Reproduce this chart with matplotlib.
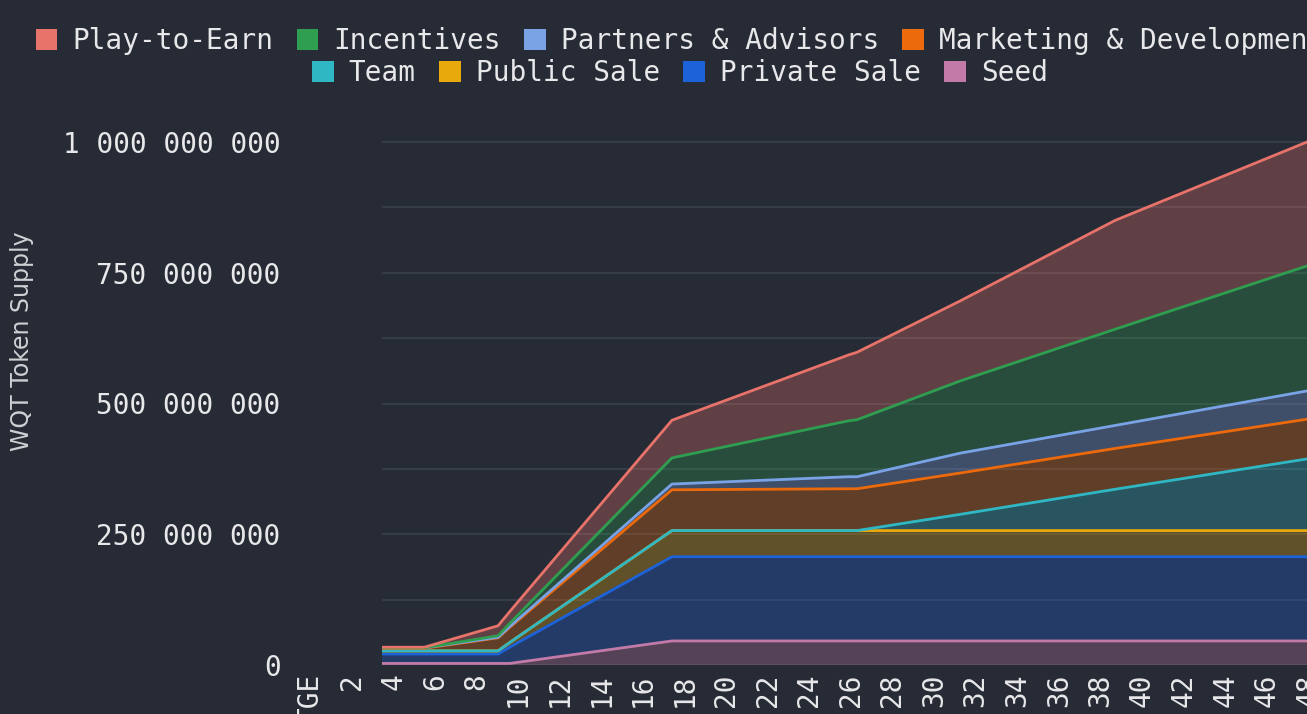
import matplotlib
matplotlib.use("Agg")
import matplotlib.pyplot as plt
import matplotlib.patches as mpatches
import matplotlib.transforms as mtransforms
import numpy as np

# month positions of the breakpoints
months = [3.46, 5.5, 9.04, 9.6, 17.4, 25.9, 26.3, 31.25, 38.7, 47.93]

# token amounts per allocation, millions
seed        = [3, 3, 3, 3, 46, 46, 46, 46, 46, 46]
private     = [18, 18, 18, 31, 161, 161, 161, 161, 161, 161]
public_sale = [6, 6, 6, 9, 50, 50, 50, 50, 50, 50]
team        = [0, 0, 0, 0, 0, 0, 0, 31, 79, 137]
marketing   = [5, 5, 25, 29, 78, 80, 80, 79, 78, 76]
partners    = [1, 1, 1, 1.5, 11, 23, 23, 38, 44, 54]
incentives  = [0, 0, 3, 6, 50, 107, 109, 138, 184, 239]
play2earn   = [1, 1, 19, 22.5, 72, 126, 129, 153, 208, 237]

labels = ["Seed", "Private Sale", "Public Sale", "Team",
          "Marketing & Development", "Partners & Advisors", "Incentives", "Play-to-Earn"]
colors = ["#c27aa9", "#1d62d9", "#e8a90c", "#2fb8c4",
          "#ec6a0c", "#7aa3e6", "#2f9e50", "#e8736b"]
series = [seed, private, public_sale, team, marketing, partners, incentives, play2earn]

legend_row1 = ["Play-to-Earn", "Incentives", "Partners & Advisors", "Marketing & Development"]
legend_row2 = ["Team", "Public Sale", "Private Sale", "Seed"]

xtick_pos = list(range(0, 49, 2))
xtick_labels = ["TGE"] + [str(m) for m in xtick_pos[1:]]
ytick_vals = [0, 250e6, 500e6, 750e6, 1000e6]

bg = "#262b35"
txt = "#e8e8ea"
mono = "DejaVu Sans Mono"

fig = plt.figure(figsize=(13.07, 7.14), dpi=100, facecolor=bg)
ax = fig.add_axes([382 / 1307, 49 / 714, 1 - 382 / 1307, (665 - 126) / 714])
ax.set_facecolor(bg)

vals = np.array(series, dtype=float) * 1e6
ax.stackplot(months, vals, colors=colors, alpha=0.3, linewidth=0)
tops = np.cumsum(vals, axis=0)
for top, c in zip(tops, colors):
  ax.plot(months, top, color=c, lw=2, solid_joinstyle="round")

ax.set_xlim(months[0], months[-1])
ax.set_ylim(0, 1e9 * (665 - 126) / (665 - 142))

ax.set_yticks(ytick_vals)
ax.set_yticklabels(["{:,}".format(int(v)).replace(",", " ") for v in ytick_vals],
                   fontfamily=mono, fontsize=20, color=txt)
ax.set_yticks(np.arange(125e6, 1e9, 250e6), minor=True)
ax.tick_params(axis="y", which="both", length=0, pad=73)
ax.set_xticks([])
ax.grid(axis="y", which="both", color="#393f4b", lw=1.3)
ax.set_axisbelow(True)
for s in ax.spines.values():
  s.set_visible(False)

# x labels sit on a month scale that starts left of the plotted area
trans = mtransforms.blended_transform_factory(ax.transData, ax.transAxes)
for m, lab in zip(xtick_pos, xtick_labels):
  ax.text(m, -0.016, lab, transform=trans, rotation=90, ha="center", va="top",
          fontfamily=mono, fontsize=20, color=txt, clip_on=False)

fig.text(22 / 1307, 1 - 341 / 714, "WQT Token Supply", rotation=90, ha="center",
         va="center", fontsize=17, color="#cfd0d4")

cmap = dict(zip(labels, colors))
for names, yc in ((legend_row1, 41), (legend_row2, 73)):
  handles = [mpatches.Patch(facecolor=cmap[n], edgecolor="none", label=n) for n in names]
  leg = fig.legend(handles=handles, ncol=4, loc="center",
                   bbox_to_anchor=(680 / 1307, 1 - yc / 714), frameon=False,
                   prop={"family": mono, "size": 20}, handlelength=0.79,
                   handleheight=0.79, handletextpad=0.54, columnspacing=0.83,
                   borderpad=0, borderaxespad=0)
  for t in leg.get_texts():
    t.set_color(txt)

fig.savefig("out.png", dpi=100, facecolor=bg)
